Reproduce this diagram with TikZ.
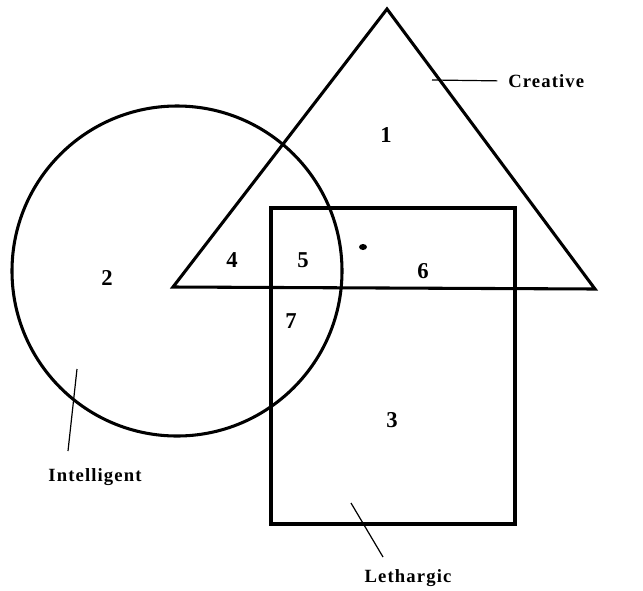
\documentclass[tikz,border=0pt]{standalone}
\usepackage{fontspec}
\setmainfont{Liberation Serif}
\usepackage{tikz}
\usetikzlibrary{positioning}

\begin{document}
\begin{tikzpicture}[
    x=0.75pt, y=-0.75pt,
    outline/.style = {draw, line width=2.3pt, line join=miter},
    pointer/.style = {draw, line width=0.9pt},
    region/.style = {font=\fontsize{17}{17}\selectfont\bfseries, inner sep=0pt},
    tag/.style = {font=\fontsize{14}{14}\selectfont\bfseries\addfontfeature{LetterSpace=6}, inner sep=0pt}
]
    \useasboundingbox (0,0) rectangle (643,590);

    % Shapes
    \draw [outline] (387,9) -- (595,289) -- (173,287) -- cycle;
    \draw [outline] (177,271) circle [radius=165];
    \draw [outline] (271,208) rectangle (515,524);
    \fill (363,247) ellipse [x radius=4, y radius=3];

    % Region numbers
    \node (r1) [region] at (386,135) {1};
    \node (r2) [region] at (107,278) {2};
    \node (r3) [region] at (392,420) {3};
    \node (r4) [region] at (232,260) {4};
    \node (r5) [region] at (303,260) {5};
    \node (r6) [region] at (423,271) {6};
    \node (r7) [region] at (291,321) {7};

    % Labels
    \node (creative) [tag, anchor=west] at (508,81) {Creative};
    \node (intelligent) [tag] at (95,477) {Intelligent};
    \node (lethargic) [tag] at (408,578) {Lethargic};

    % Connections
    \coordinate (ctip) at (432,80);
    \coordinate (itip) at (77,369);
    \coordinate (iend) at (68,451);
    \coordinate (ltip) at (351,503);
    \coordinate (lend) at (383,557);
    \draw [pointer, shorten >=8pt] (ctip) -- (creative.west);
    \draw [pointer] (itip) -- (iend);
    \draw [pointer] (ltip) -- (lend);

\end{tikzpicture}
\end{document}
